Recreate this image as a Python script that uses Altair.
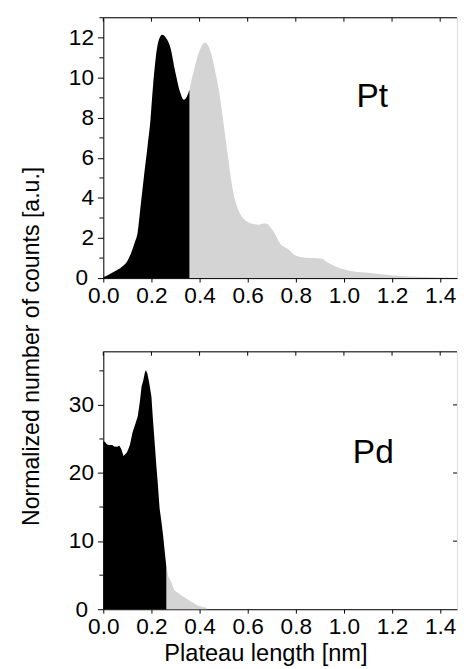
import altair as alt
import pandas as pd

FONT = "Liberation Sans"

# ---------------- data ----------------
pt_black_x = [0, 0.02, 0.05, 0.075, 0.1, 0.116, 0.13, 0.143, 0.156, 0.17, 0.184, 0.196,
              0.206, 0.218, 0.231, 0.245, 0.26, 0.279, 0.299, 0.32, 0.335, 0.347, 0.358]
pt_black_y = [0.05, 0.16, 0.35, 0.54, 0.85, 1.27, 1.75, 2.3, 3.7, 5.2, 6.6, 7.9,
              9.5, 11.0, 11.9, 12.15, 12.0, 11.5, 10.3, 9.25, 8.9, 9.05, 9.4]

pt_gray_x = [0.358, 0.375, 0.388, 0.405, 0.422, 0.44, 0.455, 0.469, 0.48, 0.49, 0.5, 0.51,
             0.52, 0.53, 0.54, 0.55, 0.565, 0.58, 0.6, 0.625, 0.646, 0.668, 0.68, 0.693,
             0.707, 0.735, 0.769, 0.802, 0.837, 0.87, 0.905, 0.932, 0.973, 1.027, 1.109,
             1.204, 1.34, 1.47]
pt_gray_y = [9.4, 10.3, 10.9, 11.5, 11.76, 11.5, 10.9, 10.1, 9.4, 8.6, 7.7, 6.8,
             5.9, 5.0, 4.3, 3.8, 3.3, 3.0, 2.8, 2.7, 2.66, 2.72, 2.71, 2.55,
             2.34, 1.73, 1.44, 1.11, 1.02, 1.0, 0.98, 0.78, 0.54, 0.36, 0.26,
             0.13, 0.05, 0.02]

pd_black_x = [0, 0.008, 0.016, 0.025, 0.037, 0.045, 0.057, 0.067, 0.075, 0.084, 0.092,
              0.098, 0.105, 0.111, 0.121, 0.132, 0.143, 0.152, 0.159, 0.166, 0.173,
              0.177, 0.183, 0.19, 0.2, 0.206, 0.213, 0.22, 0.227, 0.234, 0.241, 0.248,
              0.255, 0.262]
pd_black_y = [24.7, 24.5, 24.2, 24.1, 24.1, 23.9, 23.85, 24.0, 23.5, 22.5, 22.8,
              23.0, 23.6, 24.2, 25.9, 27.1, 28.3, 30.5, 32.7, 33.6, 34.8,
              35.1, 34.6, 33.4, 31.2, 28.0, 24.7, 21.3, 18.2, 14.8, 13.0, 11.0,
              8.6, 6.2]

pd_gray_x = [0.262, 0.265, 0.27, 0.282, 0.295, 0.31, 0.322, 0.335, 0.35, 0.365, 0.377,
             0.39, 0.404, 0.415, 0.424, 0.43]
pd_gray_y = [6.0, 5.8, 4.8, 4.0, 2.8, 2.4, 2.08, 1.8, 1.45, 1.1, 0.87,
             0.6, 0.39, 0.3, 0.3, 0.0]

x_ticks = [0.0, 0.2, 0.4, 0.6, 0.8, 1.0, 1.2, 1.4]
pt_y_major = [0, 2, 4, 6, 8, 10, 12]
pt_y_minor = [1, 3, 5, 7, 9, 11, 13]
pd_y_major = [0, 10, 20, 30]
pd_y_minor = [5, 15, 25, 35]

X_MAX = 1.47
PT_Y_MAX = 13
PD_Y_MAX = 37.8

W = 360
TOP_H = 265
BOT_H = 262

GRAY = "#d4d4d4"


def xscale():
    return alt.Scale(domain=[0, X_MAX], nice=False, zero=False)


def x_axis(title=None):
    kw = dict(values=x_ticks, format=".1f", labelFontSize=23, labelColor="black",
              labelFont=FONT, labelPadding=3, labelFlush=False, labelOverlap=False,
              tickSize=4, tickColor="black", tickWidth=1, domainColor="black",
              domainWidth=1, grid=False)
    if title:
        kw.update(title=title, titleFontSize=24, titleFont=FONT, titleFontWeight="normal",
                  titleColor="black", titleX=165, titleY=52, titleAlign="center",
                  titleBaseline="alphabetic", titleAnchor="middle")
    else:
        kw.update(title=None)
    return alt.Axis(**kw)


def y_axis(values, title=None):
    kw = dict(values=values, labelFontSize=23, labelColor="black", labelFont=FONT,
              labelPadding={"condition": {"test": "datum.value == 0", "value": 10},
                            "value": 4},
              labelFlush=False, labelOverlap=False,
              tickSize=6, tickColor="black", tickWidth=1, domainColor="black",
              domainWidth=1, grid=False)
    if title:
        kw.update(title=title, titleFontSize=23.5, titleFont=FONT, titleFontWeight="normal",
                  titleColor="black", titleAngle=-90, titleX=-66, titleY=334,
                  titleAlign="center", titleBaseline="alphabetic")
    else:
        kw.update(title=None)
    return alt.Axis(**kw)


def panel(bx, by, gx, gy, ymax, majors, minors, label, lx, ly, interp, height,
          xtitle=None, ytitle=None, right_ticks=None):
    ys = alt.Scale(domain=[0, ymax], nice=False, zero=True)
    xa = x_axis(xtitle)
    ya = y_axis(majors, ytitle)

    def X():
        return alt.X("x:Q", scale=xscale(), axis=xa)

    def Y():
        return alt.Y("y:Q", scale=ys, axis=ya)

    black = pd.DataFrame({"x": bx, "y": by})
    gray = pd.DataFrame({"x": gx, "y": gy})

    gray_area = alt.Chart(gray).mark_area(color=GRAY, interpolate=interp).encode(x=X(), y=Y())
    black_area = alt.Chart(black).mark_area(color="black", interpolate=interp).encode(x=X(), y=Y())

    txt = alt.Chart(pd.DataFrame({"t": [label], "x": [lx], "y": [ly]})).mark_text(
        font=FONT, fontSize=34, color="black", align="center", baseline="alphabetic"
    ).encode(x=X(), y=Y(), text="t:N")

    top_border = alt.Chart(pd.DataFrame({"a": [0]})).mark_rule(
        color="black", strokeWidth=1
    ).encode(x=alt.value(0), x2=alt.value(W), y=alt.value(0))

    top_ticks = alt.Chart(pd.DataFrame({"x": x_ticks})).mark_rule(
        color="black", strokeWidth=1
    ).encode(x=X(), y=alt.value(0), y2=alt.value(4))

    minor_ticks = alt.Chart(pd.DataFrame({"y": minors})).mark_rule(
        color="black", strokeWidth=1
    ).encode(y=Y(), x=alt.value(-4), x2=alt.value(0))

    layers = [gray_area, black_area, txt, top_border, top_ticks, minor_ticks]

    if right_ticks:
        rt = alt.Chart(pd.DataFrame({"y": right_ticks})).mark_rule(
            color="black", strokeWidth=1
        ).encode(y=Y(), x=alt.value(W - 4), x2=alt.value(W))
        layers.append(rt)

    return alt.layer(*layers).properties(width=W, height=height)


top = panel(pt_black_x, pt_black_y, pt_gray_x, pt_gray_y, PT_Y_MAX, pt_y_major,
            pt_y_minor, "Pt", 1.118, 8.54, "monotone", TOP_H,
            ytitle="Normalized number of counts [a.u.]")
bottom = panel(pd_black_x, pd_black_y, pd_gray_x, pd_gray_y, PD_Y_MAX, pd_y_major,
               pd_y_minor, "Pd", 1.122, 21.5, "linear", BOT_H,
               xtitle="Plateau length [nm]", right_ticks=[10, 20, 30])

chart = alt.vconcat(top, bottom, spacing=75, bounds="flush").properties(
    padding={"left": 11, "top": 3, "right": 0, "bottom": 0}
).configure_view(stroke=None).configure(font=FONT, background="white")

chart.save("out.html", embed_options={"renderer": "svg", "actions": False})
